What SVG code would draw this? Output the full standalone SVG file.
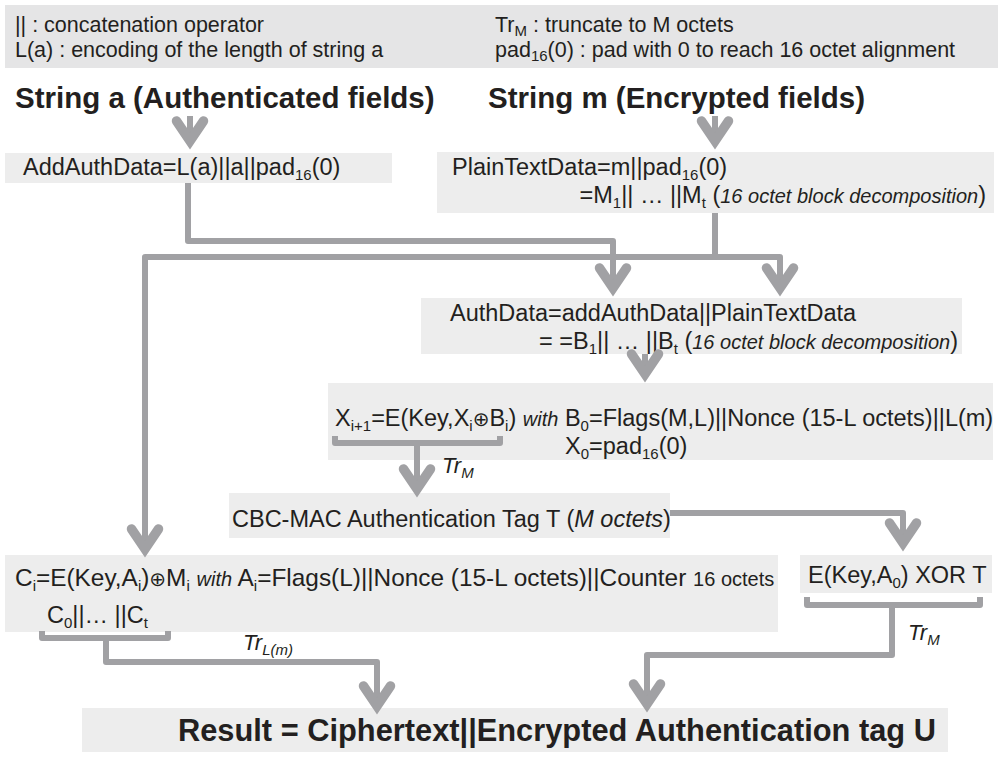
<svg xmlns="http://www.w3.org/2000/svg" width="1004" height="759" viewBox="0 0 1004 759">
  <defs>
    <style>
      text { font-family: "Liberation Sans", Arial, sans-serif; fill: #231f20; }
      .legend { font-size: 21.5px; }
      .h { font-size: 29.5px; font-weight: bold; }
      .res { font-size: 30.8px; font-weight: bold; }
      .t { font-size: 23.5px; }
      .tw { font-size: 24.4px; }
      .s { font-size: 15px; }
      .it { font-style: italic; font-size: 20px; }
      .itn { font-style: italic; }
      .small { font-size: 20px; }
      .op { font-family: "DejaVu Sans", sans-serif; font-size: 20px; }
      .lbl { font-style: italic; font-size: 22px; }
      .lbls { font-style: italic; font-size: 15px; }
      .box { fill: #ededed; }
      .legbox { fill: #e5e5e6; }
      .wire { fill: none; stroke: #a1a1a4; stroke-width: 6; stroke-linejoin: round; }
      .arrow { marker-end: url(#chev); }
    </style>
    <!-- thick open chevron used as arrowhead; its tip sits ~10px past the path end -->
    <marker id="chev" markerUnits="userSpaceOnUse" orient="auto" overflow="visible"
            viewBox="-30 -20 45 40" markerWidth="45" markerHeight="40" refX="0" refY="0">
      <path d="M-19,-13.5 L1,0 L-19,13.5" fill="none" stroke="#a1a1a4" stroke-width="9.5"
            stroke-linecap="round" stroke-linejoin="miter"/>
    </marker>
  </defs>

  <!-- legend -->
  <g id="legend">
    <rect class="legbox" x="5" y="5" width="993" height="63"/>
    <text class="legend" x="15" y="32">|| : concatenation operator</text>
    <text class="legend" x="15" y="57">L(a) : encoding of the length of string a</text>
    <text class="legend" x="495" y="32">Tr<tspan class="s" dy="4">M</tspan><tspan dy="-4"> : truncate to M octets</tspan></text>
    <text class="legend" x="495" y="57">pad<tspan class="s" dy="4">16</tspan><tspan dy="-4">(0) : pad with 0 to reach 16 octet alignment</tspan></text>
  </g>

  <!-- inputs -->
  <g id="string-a">
    <text class="h" x="15" y="108">String a (Authenticated fields)</text>
  </g>
  <g id="string-m">
    <text class="h" x="488" y="108">String m (Encrypted fields)</text>
  </g>

  <g id="add-auth-data">
    <rect class="box" x="5" y="153" width="387" height="30"/>
    <text class="t" x="23" y="175">AddAuthData=L(a)||a||pad<tspan class="s" dy="5">16</tspan><tspan dy="-5">(0)</tspan></text>
  </g>

  <g id="plain-text-data">
    <rect class="box" x="437" y="152" width="557" height="61"/>
    <text class="t" x="452" y="175">PlainTextData=m||pad<tspan class="s" dy="5">16</tspan><tspan dy="-5">(0)</tspan></text>
    <text class="t" x="986" y="203" text-anchor="end">=M<tspan class="s" dy="5">1</tspan><tspan dy="-5">|| … ||M</tspan><tspan class="s" dy="5">t</tspan><tspan dy="-5"> (</tspan><tspan class="it">16 octet block decomposition</tspan>)</text>
  </g>

  <g id="auth-data">
    <rect class="box" x="421" y="298" width="541" height="56"/>
    <text class="t" x="450" y="321">AuthData=addAuthData||PlainTextData</text>
    <text class="t" x="958" y="349" text-anchor="end">= =B<tspan class="s" dy="5">1</tspan><tspan dy="-5">|| … ||B</tspan><tspan class="s" dy="5">t</tspan><tspan dy="-5"> (</tspan><tspan class="it">16 octet block decomposition</tspan>)</text>
  </g>

  <g id="cbc-mac-chain">
    <rect class="box" x="328" y="383" width="665" height="77"/>
    <text class="t" x="335" y="426">X<tspan class="s" dy="5">i+1</tspan><tspan dy="-5">=E(Key,X</tspan><tspan class="s" dy="5">i</tspan><tspan class="op" dy="-5">⊕</tspan>B<tspan class="s" dy="5">i</tspan><tspan dy="-5">) </tspan><tspan class="it">with</tspan> B<tspan class="s" dy="5">0</tspan><tspan dy="-5">=Flags(M,L)||Nonce (15-L octets)||L(m)</tspan></text>
    <text class="t" x="565" y="454">X<tspan class="s" dy="5">0</tspan><tspan dy="-5">=pad</tspan><tspan class="s" dy="5">16</tspan><tspan dy="-5">(0)</tspan></text>
  </g>

  <g id="cbc-mac-tag">
    <rect class="box" x="229" y="493" width="441" height="45"/>
    <text class="t" x="232" y="527">CBC-MAC Authentication Tag T (<tspan class="itn">M octets</tspan>)</text>
  </g>

  <g id="ctr-encryption">
    <rect class="box" x="5" y="555" width="773" height="77"/>
    <text class="tw" x="15" y="586">C<tspan class="s" dy="5">i</tspan><tspan dy="-5">=E(Key,A</tspan><tspan class="s" dy="5">i</tspan><tspan dy="-5">)</tspan><tspan class="op">⊕</tspan>M<tspan class="s" dy="5">i</tspan><tspan dy="-5"> </tspan><tspan class="it">with</tspan> A<tspan class="s" dy="5">i</tspan><tspan dy="-5">=Flags(L)||Nonce (15-L octets)||Counter </tspan><tspan class="small">16 octets</tspan></text>
    <text class="t" x="47" y="623">C<tspan class="s" dy="5">0</tspan><tspan dy="-5">||… ||C</tspan><tspan class="s" dy="5">t</tspan></text>
  </g>

  <g id="tag-encryption">
    <rect class="box" x="800" y="555" width="192" height="38"/>
    <text class="t" x="808" y="583">E(Key,A<tspan class="s" dy="5">0</tspan><tspan dy="-5">) XOR T</tspan></text>
  </g>

  <g id="result">
    <rect class="box" x="82" y="708" width="866" height="44"/>
    <text class="res" x="178" y="741">Result = Ciphertext||Encrypted Authentication tag U</text>
  </g>

  <!-- truncation labels -->
  <g id="labels">
    <text class="lbl" x="442" y="473">Tr<tspan class="lbls" dy="5">M</tspan></text>
    <text class="lbl" x="243" y="650">Tr<tspan class="lbls" dy="5">L(m)</tspan></text>
    <text class="lbl" x="908" y="640">Tr<tspan class="lbls" dy="5">M</tspan></text>
  </g>

  <!-- connectors and brackets -->
  <g id="connectors" class="wire">
    <path class="arrow" d="M190,116 V140"/>
    <path class="arrow" d="M715,116 V140"/>
    <path class="arrow" d="M188,183 V241 H613 V287"/>
    <path d="M715,213 V257"/>
    <path class="arrow" d="M715,257 H780 V287"/>
    <path class="arrow" d="M715,257 H145 V548"/>
    <path class="arrow" d="M645,354 V373"/>
    <path d="M335,436 V443 H500 V436"/>
    <path class="arrow" d="M417,443 V488"/>
    <path class="arrow" d="M670,513 H903 V542"/>
    <path d="M42,631 V638 H168 V631"/>
    <path class="arrow" d="M106,638 V662 H377 V705"/>
    <path d="M807,597 V605 H980 V597"/>
    <path class="arrow" d="M892,605 V655 H647 V703"/>
  </g>
</svg>
